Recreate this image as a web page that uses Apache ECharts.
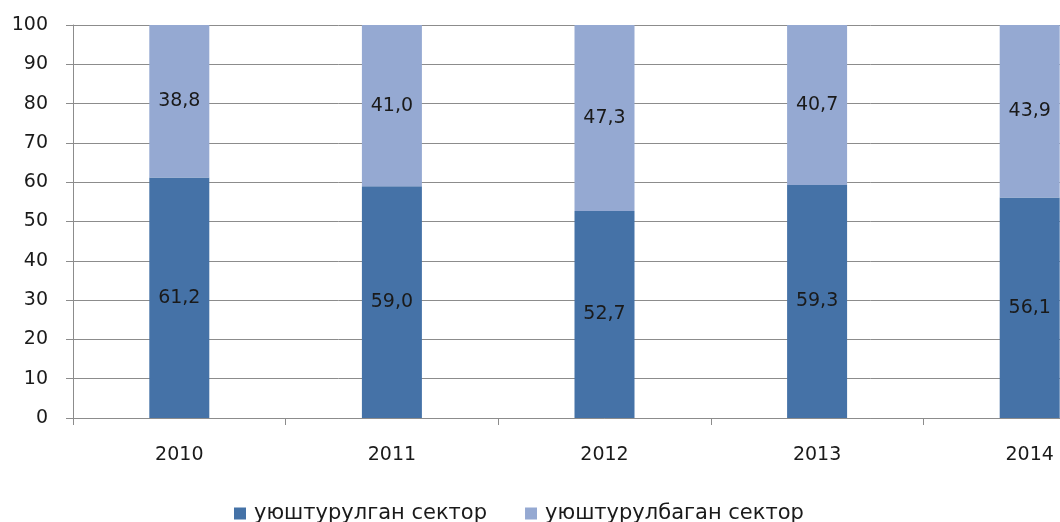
<!DOCTYPE html>
<html>
<head>
<meta charset="utf-8">
<script src="https://cdn.jsdelivr.net/npm/echarts@6/dist/echarts.min.js"></script>
<style>
html,body{margin:0;padding:0;background:#fff;overflow:hidden;width:1060px;height:522px;}
#c{width:1136px;height:522px;}
</style>
</head>
<body>
<div id="c"></div>
<script>
const categories = ['2010', '2011', '2012', '2013', '2014'];
const organized = [61.2, 59.0, 52.7, 59.3, 56.1];
const unorganized = [38.8, 41.0, 47.3, 40.7, 43.9];
const seriesNames = ['уюштурулган сектор', 'уюштурулбаган сектор'];
const yTicks = [0, 10, 20, 30, 40, 50, 60, 70, 80, 90, 100];

const fmt = v => v.toFixed(1).replace('.', ',');
const chart = echarts.init(document.getElementById('c'));
const labelStyle = {
  show: true, position: 'inside', color: '#1a1a1a',
  fontFamily: 'DejaVu Sans', fontSize: 19,
  formatter: p => fmt(p.value)
};
chart.setOption({
  animation: false,
  grid: { left: 73, top: 25, right: 0, bottom: 104, containLabel: false },
  legend: {
    top: 503, left: 234, padding: 0, itemWidth: 12, itemHeight: 12, itemGap: 38,
    icon: 'rect',
    textStyle: { fontFamily: 'DejaVu Sans', fontSize: 21, color: '#1a1a1a', padding: [0, 0, 0, 3] },
    data: seriesNames
  },
  xAxis: {
    type: 'category', data: categories,
    axisLine: { show: true, lineStyle: { color: '#8c8c8c', width: 1 } },
    axisTick: { show: true, length: 7, lineStyle: { color: '#8c8c8c' } },
    axisLabel: { margin: 28, color: '#1a1a1a', fontFamily: 'DejaVu Sans', fontSize: 19 }
  },
  yAxis: {
    type: 'value', min: 0, max: 100, interval: 10,
    axisLine: { show: true, lineStyle: { color: '#8c8c8c', width: 1 } },
    axisTick: { show: true, length: 7, lineStyle: { color: '#8c8c8c' } },
    splitLine: { show: true, lineStyle: { color: '#8c8c8c', width: 1 } },
    axisLabel: {
      margin: 25, color: '#1a1a1a', fontFamily: 'DejaVu Sans', fontSize: 19,
      formatter: v => yTicks.includes(v) ? String(v) : ''
    }
  },
  series: [
    { name: seriesNames[0], type: 'bar', stack: 's', data: organized, barWidth: 60,
      itemStyle: { color: '#4572a7' }, label: labelStyle },
    { name: seriesNames[1], type: 'bar', stack: 's', data: unorganized, barWidth: 60,
      itemStyle: { color: '#95a9d2' }, label: labelStyle }
  ]
});
</script>
</body>
</html>
